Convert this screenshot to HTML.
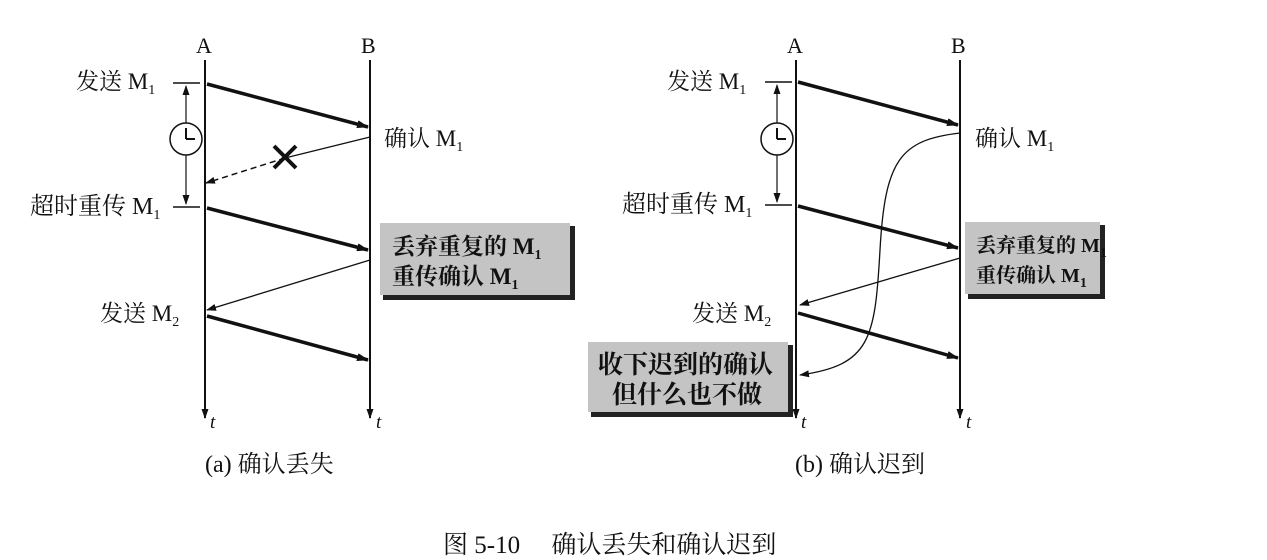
<!DOCTYPE html>
<html><head><meta charset="utf-8"><style>
html,body{margin:0;padding:0;background:#fff;}
svg{display:block;}
text{font-family:"Liberation Serif","Noto Serif CJK SC","Noto Sans CJK SC",serif;fill:#111;}
.s{font-size:14px;}
</style></head><body>
<svg width="1267" height="560" viewBox="0 0 1267 560" xmlns="http://www.w3.org/2000/svg">
<defs>
<marker id="ah" markerWidth="12" markerHeight="8" refX="11" refY="4" orient="auto" markerUnits="userSpaceOnUse">
<path d="M0,0 L12,4 L0,8 Z" fill="#111"/></marker>
<marker id="ah2" markerWidth="10" markerHeight="7" refX="9" refY="3.5" orient="auto" markerUnits="userSpaceOnUse">
<path d="M0,0 L10,3.5 L0,7 Z" fill="#111"/></marker>
</defs>
<g stroke="#111" fill="none">
<line x1="205" y1="60" x2="205" y2="418" stroke-width="2" marker-end="url(#ah2)"/>
<line x1="370" y1="60" x2="370" y2="418" stroke-width="2" marker-end="url(#ah2)"/>
<line x1="173" y1="83" x2="200" y2="83" stroke-width="1.5"/>
<line x1="173" y1="207" x2="200" y2="207" stroke-width="1.5"/>
<line x1="186" y1="123" x2="186" y2="86" stroke-width="1.2" marker-end="url(#ah2)"/>
<line x1="186" y1="155" x2="186" y2="204" stroke-width="1.2" marker-end="url(#ah2)"/>
<circle cx="186" cy="139" r="16" stroke-width="1.5" fill="#fff"/>
<line x1="186" y1="139" x2="186" y2="128" stroke-width="2"/>
<line x1="186" y1="139" x2="195" y2="139" stroke-width="2"/>
<line x1="207" y1="84" x2="368" y2="127" stroke-width="3.5" marker-end="url(#ah)"/>
<line x1="370" y1="137" x2="285" y2="158" stroke-width="1.3"/>
<line x1="285" y1="158" x2="206" y2="183" stroke-width="1.5" stroke-dasharray="6,4" marker-end="url(#ah2)"/>
<line x1="274" y1="146" x2="296" y2="168" stroke-width="4"/>
<line x1="296" y1="146" x2="274" y2="168" stroke-width="4"/>
<line x1="207" y1="208" x2="368" y2="250" stroke-width="3.5" marker-end="url(#ah)"/>
<line x1="370" y1="260" x2="207" y2="310" stroke-width="1.3" marker-end="url(#ah2)"/>
<line x1="207" y1="316" x2="368" y2="360" stroke-width="3.5" marker-end="url(#ah)"/>
<line x1="796" y1="60" x2="796" y2="418" stroke-width="2" marker-end="url(#ah2)"/>
<line x1="960" y1="60" x2="960" y2="418" stroke-width="2" marker-end="url(#ah2)"/>
<line x1="765" y1="82" x2="792" y2="82" stroke-width="1.5"/>
<line x1="765" y1="205" x2="792" y2="205" stroke-width="1.5"/>
<line x1="777" y1="123" x2="777" y2="85" stroke-width="1.2" marker-end="url(#ah2)"/>
<line x1="777" y1="155" x2="777" y2="202" stroke-width="1.2" marker-end="url(#ah2)"/>
<circle cx="777" cy="139" r="16" stroke-width="1.5" fill="#fff"/>
<line x1="777" y1="139" x2="777" y2="128" stroke-width="2"/>
<line x1="777" y1="139" x2="786" y2="139" stroke-width="2"/>
<line x1="798" y1="82" x2="958" y2="125" stroke-width="3.5" marker-end="url(#ah)"/>
<path d="M960,133 C900,140 885,160 880,250 C875,340 870,365 800,375" stroke-width="1.3" marker-end="url(#ah2)"/>
<line x1="798" y1="206" x2="958" y2="248" stroke-width="3.5" marker-end="url(#ah)"/>
<line x1="960" y1="258" x2="800" y2="305" stroke-width="1.3" marker-end="url(#ah2)"/>
<line x1="798" y1="313" x2="958" y2="358" stroke-width="3.5" marker-end="url(#ah)"/>
</g>
<rect x="383" y="226" width="192" height="74" fill="#222"/>
<rect x="380" y="223" width="190" height="72" fill="#c4c4c4"/>
<rect x="968" y="225" width="137" height="74" fill="#222"/>
<rect x="965" y="222" width="135" height="72" fill="#c4c4c4"/>
<rect x="591" y="345" width="202" height="72" fill="#222"/>
<rect x="588" y="342" width="200" height="70" fill="#c4c4c4"/>
<g font-size="23">
<text x="196" y="53" font-size="22">A</text><text x="361" y="53" font-size="22">B</text>
<text x="787" y="53" font-size="22">A</text><text x="951" y="53" font-size="22">B</text>
<text x="76" y="89">发送 M<tspan class="s" dy="5">1</tspan></text>
<text x="384" y="146">确认 M<tspan class="s" dy="5">1</tspan></text>
<text x="30" y="214" font-size="24">超时重传 M<tspan class="s" dy="5">1</tspan></text>
<text x="100" y="321">发送 M<tspan class="s" dy="5">2</tspan></text>
<text x="392" y="254" font-weight="bold">丢弃重复的 M<tspan class="s" dy="5">1</tspan></text>
<text x="392" y="284" font-weight="bold">重传确认 M<tspan class="s" dy="5">1</tspan></text>
<text x="667" y="89">发送 M<tspan class="s" dy="5">1</tspan></text>
<text x="975" y="146">确认 M<tspan class="s" dy="5">1</tspan></text>
<text x="622" y="212" font-size="24">超时重传 M<tspan class="s" dy="5">1</tspan></text>
<text x="692" y="321">发送 M<tspan class="s" dy="5">2</tspan></text>
<text x="976" y="252" font-weight="bold" font-size="20">丢弃重复的 M<tspan class="s" dy="5">1</tspan></text>
<text x="976" y="282" font-weight="bold" font-size="20">重传确认 M<tspan class="s" dy="5">1</tspan></text>
<text x="598" y="373" font-weight="bold" font-size="25">收下迟到的确认</text>
<text x="612" y="403" font-weight="bold" font-size="25">但什么也不做</text>
<text x="210" y="428" font-style="italic" font-size="19">t</text>
<text x="376" y="428" font-style="italic" font-size="19">t</text>
<text x="801" y="428" font-style="italic" font-size="19">t</text>
<text x="966" y="428" font-style="italic" font-size="19">t</text>
<text x="205" y="472" font-size="24">(a) 确认丢失</text>
<text x="795" y="472" font-size="24">(b) 确认迟到</text>
<text x="443" y="553" font-size="25">图 5-10　 确认丢失和确认迟到</text>
</g>
</svg>
</body></html>
